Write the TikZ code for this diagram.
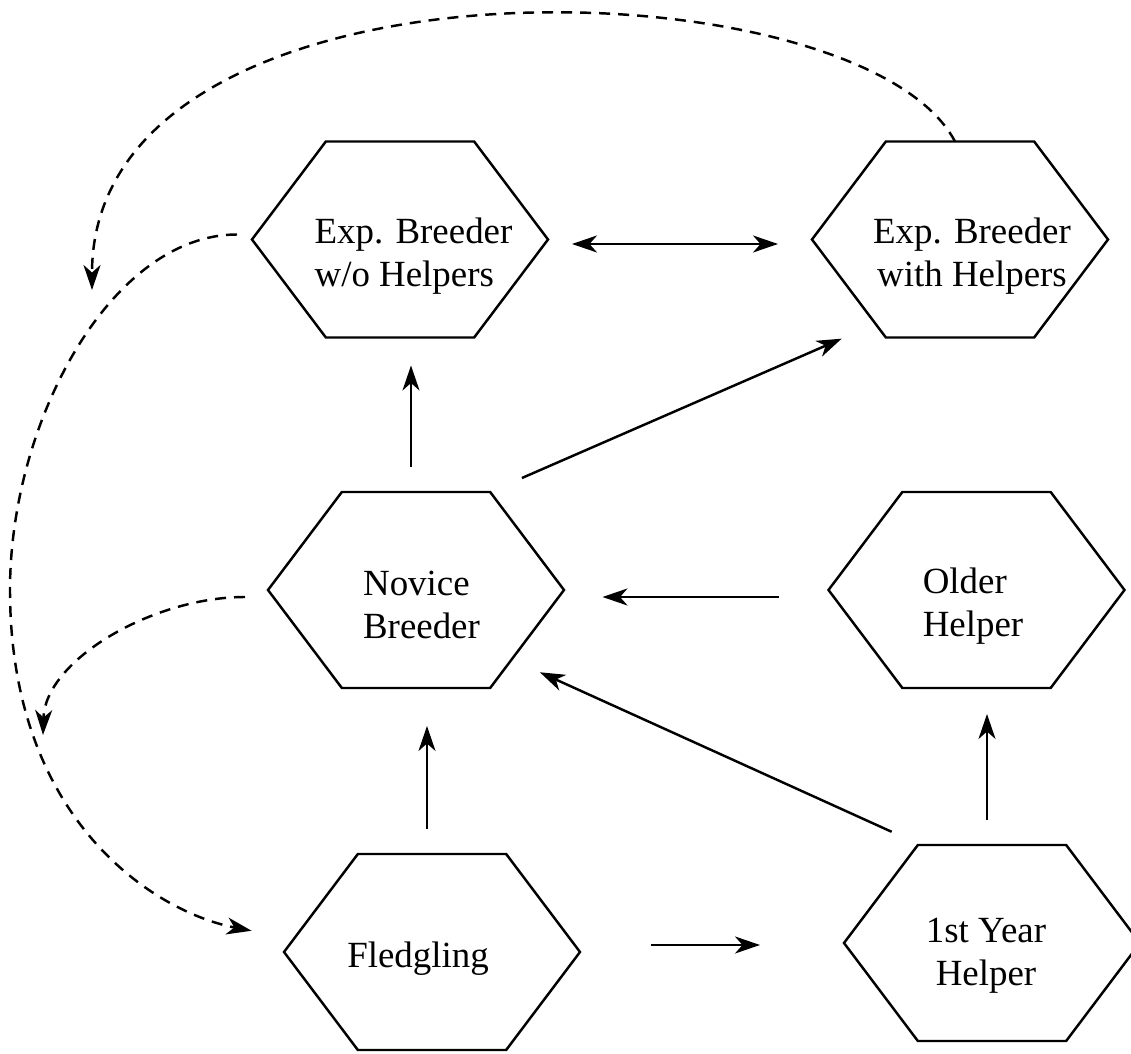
\documentclass[tikz,border=0pt]{standalone}
\usepackage{fontspec}
\setmainfont{Liberation Serif}
\usepackage{tikz}
\usetikzlibrary{
	calc,
	arrows.meta,
	shapes,
	positioning
	}
\tikzstyle{noeud-hex}=[draw,shape=signal,signal to=west and east,signal pointer angle=106,minimum width=5.92cm,minimum height=3.92cm,inner sep=0pt,outer sep=0pt,line width=1.4pt]
\tikzstyle{texte-hex}=[inner sep=0pt,font=\fontsize{21}{24.5}\selectfont]
\tikzstyle{fleche}=[line width=1.4pt,-{Stealth[length=0.5cm,width=0.34cm,inset=0.15cm]}]
\tikzstyle{fleche-double}=[line width=1.4pt,{Stealth[length=0.5cm,width=0.34cm,inset=0.15cm]}-{Stealth[length=0.5cm,width=0.34cm,inset=0.15cm]}]
\tikzstyle{fleche-pt}=[fleche,dash pattern=on 0.22cm off 0.16cm]

\begin{document}
\begin{tikzpicture}
\useasboundingbox (0,0) rectangle (22.62,21.06);

\node[noeud-hex] (noeud-ebwo) at (8.00,16.27) {};
\node[noeud-hex] (noeud-ebwh) at (19.20,16.27) {};
\node[noeud-hex] (noeud-nov) at (8.32,9.26) {};
\node[noeud-hex] (noeud-old) at (19.53,9.26) {};
\node[noeud-hex] (noeud-fled) at (8.64,2.02) {};
\node[noeud-hex] (noeud-fyh) at (19.84,2.20) {};

\node[texte-hex,align=left] (texte-ebwo) at ([shift={(0.27,-0.34)}]noeud-ebwo) {Exp. Breeder\\w/o Helpers};
\node[texte-hex,align=center] (texte-ebwh) at ([shift={(0.24,-0.34)}]noeud-ebwh) {Exp. Breeder\\with Helpers};
\node[texte-hex,align=left] (texte-nov) at ([shift={(0.11,-0.3)}]noeud-nov) {Novice\\Breeder};
\node[texte-hex,align=left] (texte-old) at ([shift={(-0.07,-0.32)}]noeud-old) {Older\\Helper};
\node[texte-hex] (texte-fled) at ([shift={(-0.28,-0.14)}]noeud-fled) {Fledgling};
\node[texte-hex,align=center] (texte-fyh) at ([shift={(-0.12,-0.26)}]noeud-fyh) {1st Year\\Helper};

\coordinate (pli) at (0.20,9.26);
\coordinate (cible-ebwh) at (1.84,15.26);
\coordinate (cible-nov) at (0.86,6.36);

\draw[fleche-double,shorten <=0.48cm,shorten >=0.68cm] ([yshift=-0.09cm]noeud-ebwo.east) -- ([yshift=-0.09cm]noeud-ebwh.west);
\draw[fleche,shorten <=0.5cm,shorten >=0.56cm] ([xshift=-0.1cm]noeud-nov.north) -- ([xshift=-0.1cm]noeud-nov.north |- noeud-ebwo.south);
\draw[fleche,shorten <=0.7cm,shorten >=0.74cm] (noeud-nov.53) -- (noeud-ebwh.225);
\draw[fleche,shorten <=1.0cm,shorten >=0.77cm] ([yshift=-0.14cm]noeud-old.west) -- ([yshift=-0.14cm]noeud-nov.east);
\draw[fleche,shorten <=0.64cm,shorten >=0.62cm] (noeud-fyh.126) -- (noeud-nov.-36);
\draw[fleche,shorten <=0.5cm,shorten >=0.76cm] ([xshift=-0.1cm]noeud-fled.north) -- ([xshift=-0.1cm]noeud-fled.north |- noeud-nov.south);
\draw[fleche,shorten <=1.42cm,shorten >=1.68cm] ([yshift=0.14cm]noeud-fled.east) -- ([yshift=0.14cm]noeud-fled.east -| noeud-fyh.west);
\draw[fleche,shorten <=0.5cm,shorten >=0.52cm] ([xshift=-0.1cm]noeud-fyh.north) -- ([xshift=-0.1cm]noeud-fyh.north |- noeud-old.south);

% pointilles
\draw[fleche-pt,shorten <=0.3cm,shorten >=0.66cm] ([yshift=0.1cm]noeud-ebwo.west) .. controls +(-2.8,0) and +(0,3.4) .. (pli)
	.. controls +(0,-4.6) and +(-2.6,0.5) .. ([yshift=0.3cm]noeud-fled.west);
\draw[fleche-pt] ([xshift=-0.1cm]noeud-ebwh.north) .. controls +(-1.9,3.62) and +(0,7.0) .. (cible-ebwh);
\draw[fleche-pt,shorten <=0.46cm] ([yshift=-0.14cm]noeud-nov.west) .. controls +(-2.3,0) and +(0.04,1.5) .. (cible-nov);
\end{tikzpicture}
\end{document}
